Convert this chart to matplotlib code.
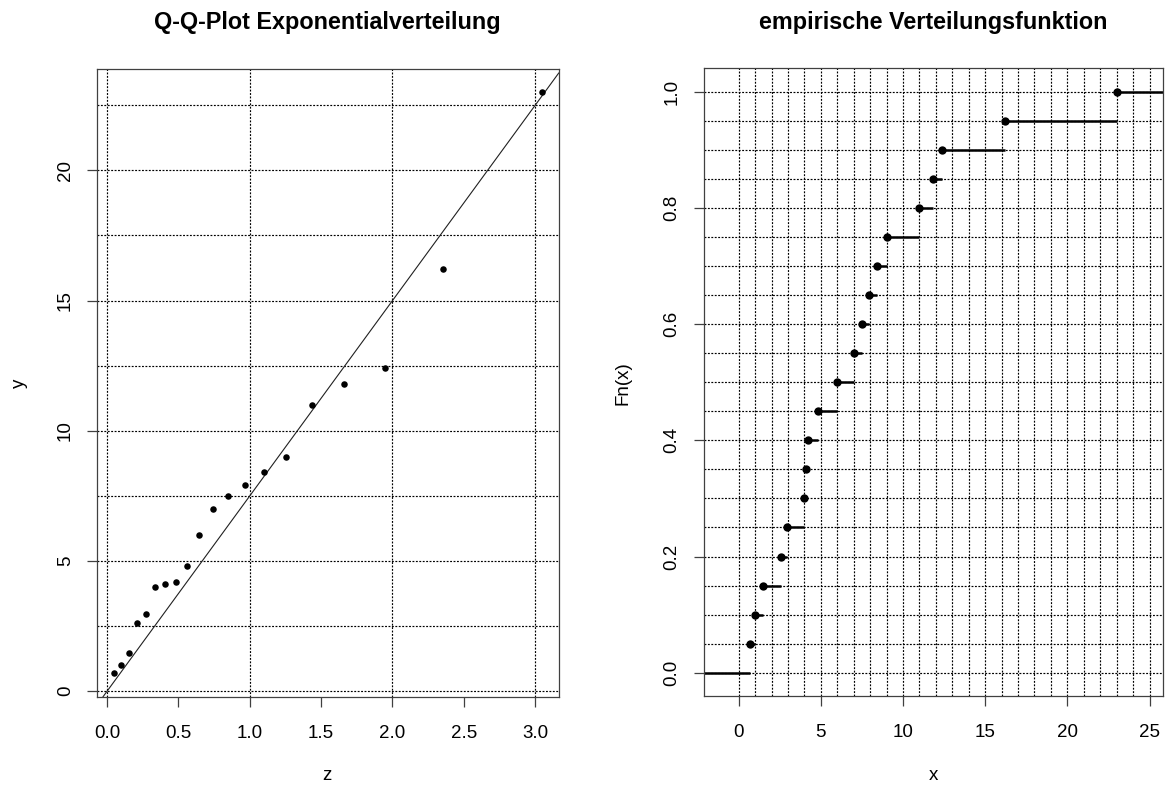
import matplotlib.pyplot as plt
import numpy as np

plt.rcParams['font.family'] = ['Liberation Sans', 'DejaVu Sans']

# theoretical exponential quantiles and sorted sample
z = [0.049, 0.100, 0.154, 0.211, 0.272, 0.336, 0.405, 0.480, 0.560, 0.647,
     0.742, 0.847, 0.965, 1.099, 1.253, 1.435, 1.658, 1.946, 2.351, 3.045]
y = [0.68, 1.00, 1.47, 2.60, 2.97, 4.00, 4.10, 4.19, 4.80, 6.00,
     7.00, 7.48, 7.90, 8.40, 9.00, 11.00, 11.80, 12.40, 16.20, 23.00]
slope = 7.5

W, H = 1165, 787
fig = plt.figure(figsize=(W / 100, H / 100), dpi=100)

def box(l, r, t, b):
    return [l / W, 1 - b / H, (r - l) / W, (b - t) / H]

ax1 = fig.add_axes(box(97, 558.7, 69, 696.7))
ax2 = fig.add_axes(box(703.5, 1163, 68.3, 696))

grid_kw = dict(color="black", lw=0.85, dashes=(1.6, 1.3), zorder=1)
tick_size = 13.5

# --- Q-Q plot ---
ax1.scatter(z, y, s=22, color="black", zorder=3, linewidths=0)
ax1.margins(0.04)
# freeze limits so that the grid lines don't widen them
ax1.set_xlim(ax1.get_xlim())
ax1.set_ylim(ax1.get_ylim())
ax1.axline((0, 0), slope=slope, color="#202020", lw=0.8, zorder=2)
for v in [0, 1, 2, 3]:
    ax1.axvline(v, **grid_kw)
for v in np.arange(0, 23, 2.5):
    ax1.axhline(v, **grid_kw)
ax1.set_xticks(np.arange(0, 3.01, 0.5))
ax1.set_xticklabels(["0.0", "0.5", "1.0", "1.5", "2.0", "2.5", "3.0"])
ax1.set_yticks([0, 5, 10, 15, 20])

# --- ECDF ---
n = len(y)
fn = np.arange(1, n + 1) / n
dr = 0.08 * (max(y) - min(y))
lo, hi = min(y) - dr, max(y) + dr
ext = 0.04 * (hi - lo)
ax2.set_xlim(lo - ext, hi + ext)
ax2.set_ylim(-0.04, 1.04)
left_edges = [lo - 2 * dr] + y
right_edges = y + [hi + 2 * dr]
levels = np.concatenate([[0], fn])
ax2.hlines(levels, left_edges, right_edges, color="black", lw=1.8, zorder=2)
ax2.plot(y, fn, "o", color="black", ms=6, mew=0, zorder=3)
for v in range(0, 26):
    ax2.axvline(v, **grid_kw)
for v in np.arange(0, 1.001, 0.05):
    ax2.axhline(v, **grid_kw)
ax2.set_xticks([0, 5, 10, 15, 20, 25])
ax2.set_yticks(np.arange(0, 1.01, 0.2))
ax2.set_yticklabels(["0.0", "0.2", "0.4", "0.6", "0.8", "1.0"])

for ax in (ax1, ax2):
    for sp in ax.spines.values():
        sp.set_color("#404040")
        sp.set_linewidth(0.9)
    ax.tick_params(length=7.5, width=0.9, color="#404040", labelsize=tick_size,
                   direction="out")
    ax.tick_params(axis="x", pad=13)
    ax.tick_params(axis="y", pad=9, labelrotation=90)
    for lab in ax.get_yticklabels():
        lab.set_va("center")

def ftext(x, yy, s, **kw):
    fig.text(x / W, 1 - yy / H, s, ha="center", va="center", **kw)

ftext(327, 22, "Q-Q-Plot Exponentialverteilung", fontsize=16.8, fontweight="bold")
ftext(933, 22, "empirische Verteilungsfunktion", fontsize=16.8, fontweight="bold")
ftext(327, 776, "z", fontsize=tick_size)
ftext(933, 776, "x", fontsize=tick_size)
ftext(19, 383, "y", fontsize=tick_size, rotation=90)
ftext(623, 383, "Fn(x)", fontsize=tick_size, rotation=90)

fig.savefig("out.png", dpi=100)
